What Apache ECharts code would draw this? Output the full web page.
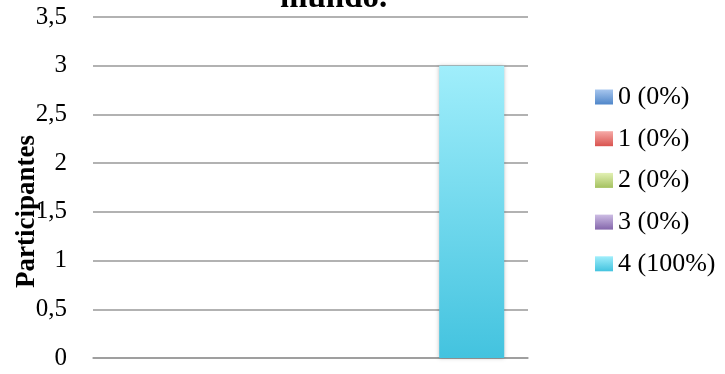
<!DOCTYPE html>
<html><head><meta charset="utf-8">
<script src="https://cdn.jsdelivr.net/npm/echarts@6/dist/echarts.min.js"></script>
<style>html,body{margin:0;padding:0;background:#fff}#c{width:725px;height:374px}</style>
</head><body><div id="c"></div>
<script>
const categories = [''];
const seriesNames = ['0 (0%)', '1 (0%)', '2 (0%)', '3 (0%)', '4 (100%)'];
const values0 = [0];
const values1 = [0];
const values2 = [0];
const values3 = [0];
const values4 = [3];
const yTicks = ['0','0,5','1','1,5','2','2,5','3','3,5'];

const allValues = [values0, values1, values2, values3, values4];
const gradients = [
  ['#a7c6ee', '#4f86c9'],
  ['#f6aaa7', '#d9534f'],
  ['#e2f0b4', '#a4c15f'],
  ['#cdbde4', '#8466ab'],
  ['#a0eefb', '#43c3df']
];
const FONT = '"Liberation Serif", "DejaVu Serif", serif';
const chart = echarts.init(document.getElementById('c'));
chart.setOption({
  animation: false,
  title: {
    text: 'mundo.',
    left: 275, top: -23,
    textStyle: {fontFamily: FONT, fontWeight: 'bold', fontSize: 33, color: '#000'}
  },
  grid: {left: 93, right: 197, top: 17, bottom: 16, containLabel: false, outerBoundsMode: 'none'},
  legend: {
    orient: 'vertical', left: 590, top: 79,
    itemWidth: 18, itemHeight: 15, itemGap: 15.7,
    icon: 'rect',
    textStyle: {fontFamily: FONT, fontSize: 26, lineHeight: 26, color: '#000', padding: [0,0,0,0]},
    data: seriesNames
  },
  xAxis: {
    type: 'category', data: categories,
    axisLine: {show: true, lineStyle: {color: '#999', width: 1.5}},
    axisTick: {show: false}, axisLabel: {show: false}
  },
  yAxis: {
    type: 'value', min: 0, max: 3.5, interval: 0.5,
    name: 'Participantes', nameLocation: 'middle', nameGap: 52, nameRotate: 90,
    nameMoveOverlap: false,
    nameTextStyle: {fontFamily: FONT, fontWeight: 'bold', fontSize: 27, color: '#000', padding: [0,0,0,-48]},
    axisLine: {show: false}, axisTick: {show: false},
    axisLabel: {margin: 26, fontFamily: FONT, fontSize: 25, color: '#000',
      formatter: v => yTicks[Math.round(v / 0.5)]},
    splitLine: {lineStyle: {color: '#999', width: 1.5}}
  },
  series: allValues.map((vals, i) => ({
    name: seriesNames[i], type: 'bar', data: vals,
    barWidth: 65, barGap: '24%',
    itemStyle: {
      color: new echarts.graphic.LinearGradient(0, 0, 0, 1, [
        {offset: 0, color: gradients[i][0]}, {offset: 1, color: gradients[i][1]}
      ]),
      shadowColor: 'rgba(0,0,0,0.25)', shadowBlur: 4
    }
  }))
});
</script></body></html>
